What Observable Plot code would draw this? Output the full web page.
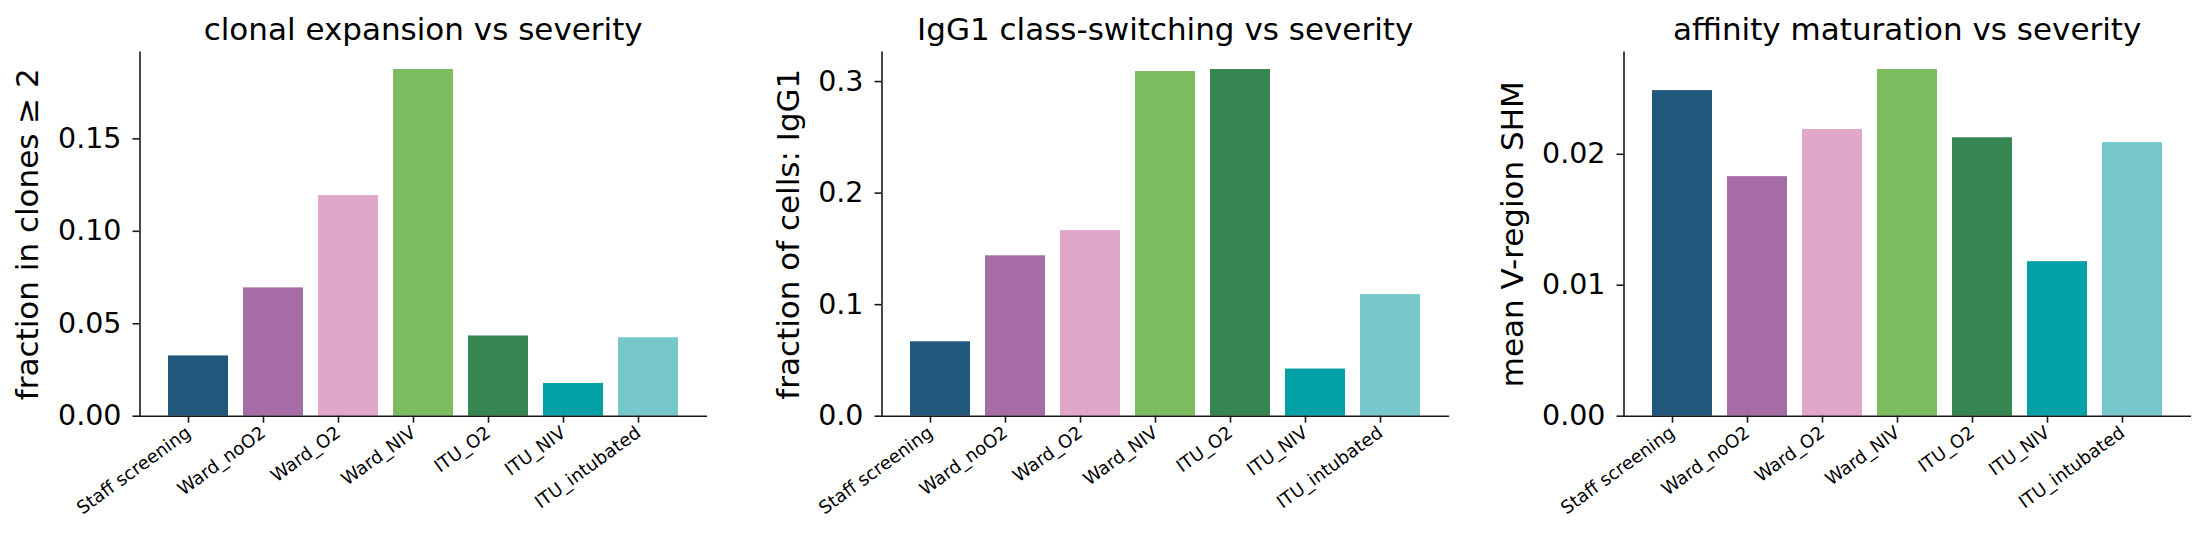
<!DOCTYPE html>
<html>
<head>
<meta charset="utf-8">
<script src="https://cdn.jsdelivr.net/npm/d3@7"></script>
<script src="https://cdn.jsdelivr.net/npm/@observablehq/plot@0.6"></script>
<style>
  html, body { margin: 0; padding: 0; background: #fff; }
  #row { display: flex; width: 2204px; height: 539px; overflow: hidden; }
  #row svg { display: block; }
</style>
</head>
<body>
<div id="row"></div>
<script>
const categories = ["Staff screening", "Ward_noO2", "Ward_O2", "Ward_NIV", "ITU_O2", "ITU_NIV", "ITU_intubated"];
const colors = ["#20577a", "#a66ca5", "#e0a7c8", "#7dbb5f", "#378651", "#03a1a6", "#77c8cb"];

const clonalValues = [0.0326, 0.0694, 0.1193, 0.1875, 0.0434, 0.0177, 0.0424];
const igg1Values   = [0.0667, 0.1438, 0.1664, 0.3090, 0.3108, 0.0423, 0.1090];
const shmValues    = [0.02486, 0.01829, 0.02189, 0.02647, 0.02126, 0.0118, 0.02089];

const titles = ["clonal expansion vs severity", "IgG1 class-switching vs severity", "affinity maturation vs severity"];
const yLabels = ["fraction in clones \u2265 2", "fraction of cells: IgG1", "mean V-region SHM"];
const yTicks = [[0, 0.05, 0.10, 0.15], [0, 0.1, 0.2, 0.3], [0, 0.01, 0.02]];
const yFormats = [".2f", ".1f", ".2f"];

const panels = [
  {values: clonalValues, title: titles[0], ylabel: yLabels[0], ticks: yTicks[0], fmt: yFormats[0], width: 742, labelDx: -111.5},
  {values: igg1Values,   title: titles[1], ylabel: yLabels[1], ticks: yTicks[1], fmt: yFormats[1], width: 742, labelDx: -92.6},
  {values: shmValues,    title: titles[2], ylabel: yLabels[2], ticks: yTicks[2], fmt: yFormats[2], width: 720, labelDx: -111}
];

const row = document.getElementById("row");
const ink = "#1a1a1a";

for (const p of panels) {
  const data = categories.map((c, i) => ({cat: c, v: p.values[i], color: colors[i]}));
  const vmax = d3.max(p.values);
  const plotW = 566.3;
  const mL = 139.5;
  const chart = Plot.plot({
    width: p.width,
    height: 539,
    marginLeft: mL,
    marginRight: p.width - mL - plotW,
    marginTop: 51.7,
    marginBottom: 123.3,
    style: {fontFamily: "DejaVu Sans", background: "#fff", color: ink, overflow: "visible"},
    x: {domain: categories, paddingInner: 0.2, paddingOuter: 0.34, label: null},
    y: {domain: [0, vmax * 1.05], label: null},
    color: {type: "identity"},
    marks: [
      Plot.barY(data, {x: "cat", y: "v", fill: "color"}),
      Plot.axisY({ticks: p.ticks, tickFormat: d3.format(p.fmt), tickSize: 7, tickPadding: 11.5, fontSize: 28.5, strokeWidth: 1.6, label: null, fill: "#000"}),
      Plot.axisX({tickSize: 7, tickRotate: -36, tickPadding: 7.5, dx: -10, fontSize: 18, strokeWidth: 1.6, label: null, fill: "#000"}),
      Plot.frame({anchor: "left", stroke: ink, strokeWidth: 1.6}),
      Plot.frame({anchor: "bottom", stroke: ink, strokeWidth: 1.6}),
      Plot.text([p.title], {frameAnchor: "top", lineAnchor: "bottom", dy: -12.4, fontSize: 31, fill: "#000"}),
      Plot.text([p.ylabel], {frameAnchor: "left", textAnchor: "middle", rotate: -90, dx: p.labelDx, fontSize: 31, fill: "#000"})
    ]
  });
  row.appendChild(chart);
}
</script>
</body>
</html>
